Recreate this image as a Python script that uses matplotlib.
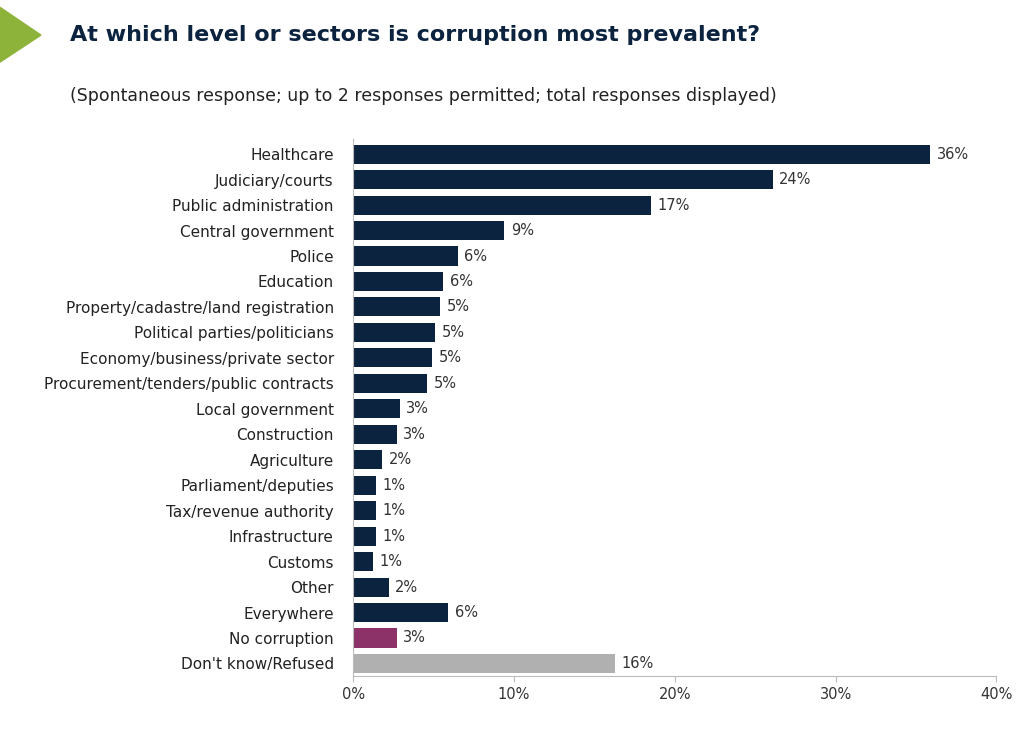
import matplotlib
matplotlib.use("Agg")
import matplotlib.pyplot as plt
from matplotlib.patches import Polygon

categories = ["Healthcare","Judiciary/courts","Public administration","Central government","Police",
 "Education","Property/cadastre/land registration","Political parties/politicians",
 "Economy/business/private sector","Procurement/tenders/public contracts","Local government",
 "Construction","Agriculture","Parliament/deputies","Tax/revenue authority","Infrastructure",
 "Customs","Other","Everywhere","No corruption","Don't know/Refused"]
values = [35.9,26.1,18.5,9.4,6.5,5.6,5.4,5.1,4.9,4.6,2.9,2.7,1.8,1.4,1.4,1.4,1.2,2.2,5.9,2.7,16.3]
labels = ["36%","24%","17%","9%","6%","6%","5%","5%","5%","5%","3%","3%","2%","1%","1%","1%","1%","2%","6%","3%","16%"]
colors = ["#0c2340"]*19 + ["#8c3268", "#b0b0b0"]

fig = plt.figure(figsize=(10.24,7.31), dpi=100)
ax = fig.add_axes([0.345, 0.075, 0.628, 0.735])
y = list(range(len(categories)))
ax.barh(y, values, color=colors, height=0.75)
for yi, v, l in zip(y, values, labels):
    ax.text(v+0.4, yi, l, va="center", ha="left", fontsize=10.5, color="#333333")
ax.set_yticks(y)
ax.set_yticklabels(categories, fontsize=11, color="#222222")
ax.invert_yaxis()
ax.set_ylim(len(categories)-0.5, -0.6)
ax.set_xlim(0, 40)
ax.set_xticks([0,10,20,30,40])
ax.set_xticklabels(["0%","10%","20%","30%","40%"], fontsize=10.5, color="#333333")
for s in ["top","right"]:
    ax.spines[s].set_visible(False)
ax.spines["left"].set_color("#bbbbbb")
ax.spines["bottom"].set_color("#bbbbbb")
ax.tick_params(axis="y", length=0, pad=14)
ax.tick_params(axis="x", length=4, color="#bbbbbb")

fig.text(0.068, 0.952, "At which level or sectors is corruption most prevalent?", fontsize=16,
         fontweight="bold", color="#0c2340", va="center")
fig.text(0.068, 0.868, "(Spontaneous response; up to 2 responses permitted; total responses displayed)",
         fontsize=12.5, color="#222222", va="center")
fig.patches.append(Polygon([[0.0,0.99],[0.0,0.915],[0.04,0.952]], closed=True,
                           transform=fig.transFigure, color="#8db33a"))
fig.savefig("out.png", dpi=100)
